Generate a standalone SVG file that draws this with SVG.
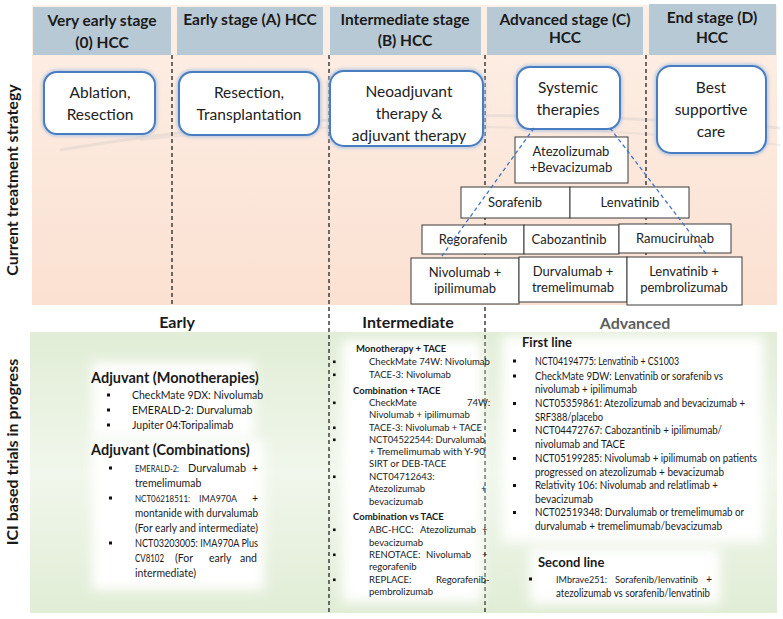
<svg xmlns="http://www.w3.org/2000/svg" width="783" height="619" viewBox="0 0 783 619">
<defs>
<linearGradient id="peach" x1="0" y1="0" x2="0" y2="1">
<stop offset="0" stop-color="#fdefe5"/>
<stop offset="1" stop-color="#fbe1d2"/>
</linearGradient>
<linearGradient id="green" x1="0" y1="0" x2="0" y2="1">
<stop offset="0" stop-color="#e1edd6"/>
<stop offset="0.5" stop-color="#f1f7ec"/>
<stop offset="1" stop-color="#e1edd6"/>
</linearGradient>
<filter id="blur" x="-20%" y="-20%" width="140%" height="140%">
<feGaussianBlur stdDeviation="6"/>
</filter>
<filter id="glow" x="-20%" y="-20%" width="140%" height="140%">
<feGaussianBlur stdDeviation="1.5"/>
</filter>
<style>
text{font-family:Lato,"Liberation Sans",sans-serif;fill:#1a1a1a}
.hd{font-size:15.5px;font-weight:bold;text-anchor:middle}
.bx{font-size:15.5px;text-anchor:middle;fill:#222}
.py{font-size:13px;text-anchor:middle;fill:#222}
.side{font-size:16px;font-weight:bold;text-anchor:middle}
.sec{font-size:16px;font-weight:bold;text-anchor:middle}
.h1{font-size:14.5px;font-weight:bold}
.t1{font-size:10.5px}
.h2{font-size:9.5px;font-weight:bold}
.t2{font-size:9.5px}
.h3{font-size:13px;font-weight:bold}
.t3{font-size:10.5px}
.sm{font-size:9.5px}
.e{text-anchor:end}
.hcell{fill:#b8c9d6}
.rbox{fill:#ffffff;stroke:#4a7dc0;stroke-width:2}
.rglow{fill:none;stroke:#a9c2e3;stroke-width:5;opacity:0.8}
.pbox{fill:#ffffff;stroke:#3a3a3a;stroke-width:1}
.vd{stroke:#222;stroke-width:1.3;stroke-dasharray:4 3;fill:none}
.bd{stroke:#4472c4;stroke-width:1.3;stroke-dasharray:4 3;fill:none}
.card{fill:#ffffff;filter:url(#blur)}
.bul{fill:#111}
</style>
</defs>

<!-- backgrounds -->
<rect x="32" y="5" width="745" height="300" fill="url(#peach)"/>
<rect x="30" y="332" width="747" height="281" fill="url(#green)"/>
<path d="M60 150 Q 380 95 780 128" fill="none" stroke="#d8d0cc" stroke-width="3" opacity="0.45"/>
<path d="M140 140 Q 420 110 780 145" fill="none" stroke="#d8d0cc" stroke-width="2" opacity="0.35"/>

<!-- side labels -->
<text class="side" transform="translate(18,180) rotate(-90)">Current treatment strategy</text>
<text class="side" transform="translate(18,452) rotate(-90)">ICI based trials in progress</text>

<!-- header cells -->
<g id="header-0">
<rect class="hcell" x="33" y="7" width="138" height="48"/>
<text class="hd" x="102" y="26">Very early stage</text>
<text class="hd" x="102" y="48">(0) HCC</text>
</g>
<g id="header-a">
<rect class="hcell" x="177" y="7" width="146" height="48"/>
<text class="hd" x="250" y="25">Early stage (A) HCC</text>
</g>
<g id="header-b">
<rect class="hcell" x="330" y="7" width="151" height="48"/>
<text class="hd" x="405" y="25">Intermediate stage</text>
<text class="hd" x="405" y="46">(B) HCC</text>
</g>
<g id="header-c">
<rect class="hcell" x="487" y="7" width="156" height="48"/>
<text class="hd" x="565" y="25">Advanced stage (C)</text>
<text class="hd" x="565" y="43">HCC</text>
</g>
<g id="header-d">
<rect class="hcell" x="649" y="4" width="127" height="51"/>
<text class="hd" x="712" y="23">End stage (D)</text>
<text class="hd" x="712" y="43">HCC</text>
</g>

<!-- stage separators -->
<g id="separators">
<line class="vd" x1="172" y1="55" x2="172" y2="305"/>
<line class="vd" x1="329" y1="55" x2="329" y2="615"/>
<line class="vd" x1="485" y1="55" x2="485" y2="615"/>
<line class="vd" x1="646" y1="55" x2="646" y2="305"/>
</g>

<!-- treatment boxes -->
<g id="box-ablation">
<rect class="rglow" x="44" y="72" width="111" height="62" rx="13" filter="url(#glow)"/>
<rect class="rbox" x="44" y="72" width="111" height="62" rx="13"/>
<text class="bx" x="100" y="98">Ablation,</text>
<text class="bx" x="100" y="120">Resection</text>
</g>
<g id="box-resection">
<rect class="rglow" x="179" y="72" width="140" height="63" rx="13" filter="url(#glow)"/>
<rect class="rbox" x="179" y="72" width="140" height="63" rx="13"/>
<text class="bx" x="249" y="98">Resection,</text>
<text class="bx" x="249" y="120">Transplantation</text>
</g>
<g id="box-neoadjuvant">
<rect class="rglow" x="330" y="71" width="153" height="75" rx="14" filter="url(#glow)"/>
<rect class="rbox" x="330" y="71" width="153" height="75" rx="14"/>
<text class="bx" x="409" y="97">Neoadjuvant</text>
<text class="bx" x="409" y="119">therapy &amp;</text>
<text class="bx" x="409" y="141">adjuvant therapy</text>
</g>
<g id="box-systemic">
<rect class="rglow" x="517" y="67" width="103" height="62" rx="13" filter="url(#glow)"/>
<rect class="rbox" x="517" y="67" width="103" height="62" rx="13"/>
<text class="bx" x="568" y="93">Systemic</text>
<text class="bx" x="568" y="115">therapies</text>
</g>
<g id="box-supportive">
<rect class="rglow" x="657" y="66" width="109" height="87" rx="14" filter="url(#glow)"/>
<rect class="rbox" x="657" y="66" width="109" height="87" rx="14"/>
<text class="bx" x="711" y="93">Best</text>
<text class="bx" x="711" y="115">supportive</text>
<text class="bx" x="711" y="137">care</text>
</g>

<!-- pyramid -->
<g id="p-atezo">
<rect class="pbox" x="515" y="137" width="113" height="46"/>
<text class="py" x="571" y="156">Atezolizumab</text>
<text class="py" x="571" y="172">+Bevacizumab</text>
</g>
<g id="p-sorafenib">
<rect class="pbox" x="461" y="187" width="109" height="31"/>
<text class="py" x="515" y="207">Sorafenib</text>
</g>
<g id="p-lenvatinib">
<rect class="pbox" x="570" y="187" width="119" height="31"/>
<text class="py" x="630" y="207">Lenvatinib</text>
</g>
<g id="p-regorafenib">
<rect class="pbox" x="422" y="225" width="102" height="29"/>
<text class="py" x="473" y="244">Regorafenib</text>
</g>
<g id="p-cabozantinib">
<rect class="pbox" x="524" y="225" width="95" height="29"/>
<text class="py" x="569" y="244">Cabozantinib</text>
</g>
<g id="p-ramucirumab">
<rect class="pbox" x="619" y="224" width="112" height="29"/>
<text class="py" x="675" y="243">Ramucirumab</text>
</g>
<g id="p-nivo">
<rect class="pbox" x="411" y="258" width="108" height="46"/>
<text class="py" x="465" y="277">Nivolumab +</text>
<text class="py" x="465" y="293">ipilimumab</text>
</g>
<g id="p-durva">
<rect class="pbox" x="519" y="257" width="108" height="45"/>
<text class="py" x="573" y="276">Durvalumab +</text>
<text class="py" x="573" y="292">tremelimumab</text>
</g>
<g id="p-lenpem">
<rect class="pbox" x="627" y="257" width="115" height="48"/>
<text class="py" x="684" y="276">Lenvatinib +</text>
<text class="py" x="684" y="292">pembrolizumab</text>
</g>

<g id="connectors">
<line class="bd" x1="534" y1="128" x2="442" y2="256"/>
<line class="bd" x1="610" y1="128" x2="707" y2="255"/>
</g>

<!-- bottom section headings -->
<text class="sec" x="177" y="328">Early</text>
<text class="sec" x="408" y="328">Intermediate</text>
<text class="sec" x="635" y="329" style="fill:#595959">Advanced</text>

<!-- cards -->
<rect class="card" x="92" y="362" width="162" height="76"/>
<rect class="card" x="92" y="440" width="172" height="150"/>
<rect class="card" x="342" y="340" width="140" height="262"/>
<rect class="card" x="502" y="336" width="262" height="206"/>
<rect class="card" x="530" y="548" width="190" height="56"/>

<!-- early trials -->
<g id="early-trials">
<text class="h1" x="91" y="383">Adjuvant (Monotherapies)</text>
<rect class="bul" x="107" y="393.5" width="3" height="3"/>
<text class="t1" x="132" y="399">CheckMate 9DX: Nivolumab</text>
<rect class="bul" x="107" y="408.5" width="3" height="3"/>
<text class="t1" x="132" y="414">EMERALD-2: Durvalumab</text>
<rect class="bul" x="107" y="423.5" width="3" height="3"/>
<text class="t1" x="132" y="429">Jupiter 04:Toripalimab</text>
<text class="h1" x="91" y="455">Adjuvant (Combinations)</text>
<rect class="bul" x="109" y="466.5" width="3" height="3"/>
<text class="t1" y="472"><tspan class="sm" x="135" textLength="44" lengthAdjust="spacingAndGlyphs">EMERALD-2:</tspan><tspan x="188" textLength="58" lengthAdjust="spacingAndGlyphs">Durvalumab</tspan><tspan x="252">+</tspan></text>
<text class="t1" x="135" y="487">tremelimumab</text>
<rect class="bul" x="109" y="496.5" width="3" height="3"/>
<text class="t1" y="502"><tspan class="sm" x="135" textLength="55" lengthAdjust="spacingAndGlyphs">NCT06218511:</tspan><tspan class="sm" x="199" textLength="38" lengthAdjust="spacingAndGlyphs">IMA970A</tspan><tspan x="252">+</tspan></text>
<text class="t1" x="135" y="517" textLength="123" lengthAdjust="spacingAndGlyphs">montanide with durvalumab</text>
<text class="t1" x="135" y="532" textLength="123" lengthAdjust="spacingAndGlyphs">(For early and intermediate)</text>
<rect class="bul" x="109" y="541.5" width="3" height="3"/>
<text class="t1" x="135" y="547" textLength="123" lengthAdjust="spacingAndGlyphs">NCT03203005: IMA970A Plus</text>
<text class="t1" y="562"><tspan x="135" textLength="29" lengthAdjust="spacingAndGlyphs">CV8102</tspan><tspan x="175">(For</tspan><tspan x="209">early</tspan><tspan x="240">and</tspan></text>
<text class="t1" x="135" y="577">intermediate)</text>
</g>

<!-- intermediate trials -->
<g id="intermediate-trials">
<text class="h2" x="356" y="352">Monotherapy + TACE</text>
<rect class="bul" x="333" y="360.5" width="2.6" height="2.6"/>
<text class="t2" x="369" y="365">CheckMate 74W: Nivolumab</text>
<rect class="bul" x="333" y="373.5" width="2.6" height="2.6"/>
<text class="t2" x="369" y="378">TACE-3: Nivolumab</text>
<text class="h2" x="353" y="394">Combination + TACE</text>
<rect class="bul" x="333" y="401.5" width="2.6" height="2.6"/>
<text class="t2" y="406"><tspan x="369">CheckMate</tspan><tspan x="467">74W:</tspan></text>
<text class="t2" x="369" y="418">Nivolumab + ipilimumab</text>
<rect class="bul" x="333" y="426.5" width="2.6" height="2.6"/>
<text class="t2" x="369" y="431" textLength="113" lengthAdjust="spacingAndGlyphs">TACE-3: Nivolumab + TACE</text>
<rect class="bul" x="333" y="438.5" width="2.6" height="2.6"/>
<text class="t2" x="369" y="443" textLength="116" lengthAdjust="spacingAndGlyphs">NCT04522544: Durvalumab</text>
<text class="t2" x="369" y="455" textLength="116" lengthAdjust="spacingAndGlyphs">+ Tremelimumab with Y-90</text>
<text class="t2" x="369" y="467">SIRT or DEB-TACE</text>
<rect class="bul" x="333" y="475.5" width="2.6" height="2.6"/>
<text class="t2" x="369" y="480">NCT04712643:</text>
<text class="t2" y="492"><tspan x="369">Atezolizumab</tspan><tspan x="481">+</tspan></text>
<text class="t2" x="369" y="505">bevacizumab</text>
<text class="h2" x="353" y="520">Combination vs TACE</text>
<rect class="bul" x="333" y="528.5" width="2.6" height="2.6"/>
<text class="t2" y="533"><tspan x="369">ABC-HCC:</tspan><tspan x="420">Atezolizumab</tspan><tspan x="482">+</tspan></text>
<text class="t2" x="369" y="546">bevacizumab</text>
<rect class="bul" x="333" y="553.5" width="2.6" height="2.6"/>
<text class="t2" y="558"><tspan x="369">RENOTACE:</tspan><tspan x="426">Nivolumab</tspan><tspan x="482">+</tspan></text>
<text class="t2" x="369" y="570">regorafenib</text>
<rect class="bul" x="333" y="578.5" width="2.6" height="2.6"/>
<text class="t2" y="583"><tspan x="369">REPLACE:</tspan><tspan x="436">Regorafenib-</tspan></text>
<text class="t2" x="369" y="595">pembrolizumab</text>
</g>

<!-- advanced trials -->
<g id="advanced-trials">
<text class="h3" x="522" y="347">First line</text>
<rect class="bul" x="513" y="359.5" width="3" height="3"/>
<text class="t3" x="535" y="364.5" textLength="144" lengthAdjust="spacingAndGlyphs">NCT04194775: Lenvatinib + CS1003</text>
<rect class="bul" x="513" y="374.5" width="3" height="3"/>
<text class="t3" x="535" y="379.5" textLength="188" lengthAdjust="spacingAndGlyphs">CheckMate 9DW: Lenvatinib or sorafenib vs</text>
<text class="t3" x="535" y="393" textLength="102" lengthAdjust="spacingAndGlyphs">nivolumab + ipilimumab</text>
<rect class="bul" x="513" y="402" width="3" height="3"/>
<text class="t3" x="535" y="407" textLength="210" lengthAdjust="spacingAndGlyphs">NCT05359861: Atezolizumab and bevacizumab +</text>
<text class="t3" x="535" y="420.5" textLength="68" lengthAdjust="spacingAndGlyphs">SRF388/placebo</text>
<rect class="bul" x="513" y="429" width="3" height="3"/>
<text class="t3" x="535" y="434" textLength="187" lengthAdjust="spacingAndGlyphs">NCT04472767: Cabozantinib + ipilimumab/</text>
<text class="t3" x="535" y="448" textLength="90" lengthAdjust="spacingAndGlyphs">nivolumab and TACE</text>
<rect class="bul" x="513" y="457" width="3" height="3"/>
<text class="t3" x="535" y="462" textLength="222" lengthAdjust="spacingAndGlyphs">NCT05199285: Nivolumab + ipilimumab on patients</text>
<text class="t3" x="535" y="475.5" textLength="189" lengthAdjust="spacingAndGlyphs">progressed on atezolizumab + bevacizumab</text>
<rect class="bul" x="513" y="484" width="3" height="3"/>
<text class="t3" x="535" y="489" textLength="183" lengthAdjust="spacingAndGlyphs">Relativity 106: Nivolumab and relatlimab +</text>
<text class="t3" x="535" y="502.5" textLength="58" lengthAdjust="spacingAndGlyphs">bevacizumab</text>
<rect class="bul" x="513" y="511" width="3" height="3"/>
<text class="t3" x="535" y="516" textLength="209" lengthAdjust="spacingAndGlyphs">NCT02519348: Durvalumab or tremelimumab or</text>
<text class="t3" x="535" y="529.5" textLength="187" lengthAdjust="spacingAndGlyphs">durvalumab + tremelimumab/bevacizumab</text>
<text class="h3" x="538" y="567">Second line</text>
<rect class="bul" x="529" y="577.5" width="3" height="3"/>
<text class="t3" y="582.5"><tspan class="sm" x="556" textLength="51" lengthAdjust="spacingAndGlyphs">IMbrave251:</tspan><tspan class="sm" x="615" textLength="83" lengthAdjust="spacingAndGlyphs">Sorafenib/lenvatinib</tspan><tspan x="706">+</tspan></text>
<text class="t3" x="556" y="596.5" textLength="154" lengthAdjust="spacingAndGlyphs">atezolizumab vs sorafenib/lenvatinib</text>
</g>
</svg>
